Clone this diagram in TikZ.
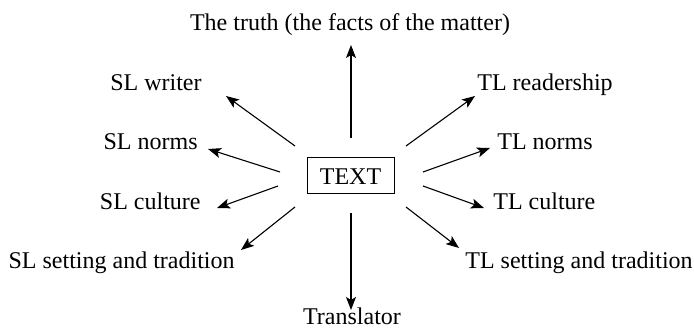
\documentclass[tikz,border=0pt]{standalone}
\usepackage{fontspec}
\setmainfont{Liberation Serif}
\usetikzlibrary{arrows.meta}

\begin{document}
\begin{tikzpicture}[x=0.5pt, y=-0.5pt, every node/.style={inner sep=0pt, font=\fontsize{12}{14}\selectfont}, arr/.style={-{Stealth[length=6.5pt, width=5pt, inset=1.5pt]}, line width=0.55pt}, box/.style={draw, line width=0.5pt, minimum width=43.5pt, minimum height=18pt}]
		\useasboundingbox (0,0) rectangle (694,330);
		\node[box](text) at (350.5,176){};
		\node[anchor=base](textlbl) at (350.5,185){TEXT};
		\node[anchor=base](truth) at (350,31){The truth (the facts of the matter)};
		\node[anchor=base](transl) at (352,325){Translator};
		\node[anchor=base east](slw) at (202,91){SL writer};
		\node[anchor=base east](sln) at (198,150){SL norms};
		\node[anchor=base east](slc) at (201,210){SL culture};
		\node[anchor=base east](sls) at (235,269){SL setting and tradition};
		\node[anchor=base west](tlr) at (477,91){TL readership};
		\node[anchor=base west](tln) at (497,150){TL norms};
		\node[anchor=base west](tlc) at (493,210){TL culture};
		\node[anchor=base west](tls) at (465,269){TL setting and tradition};
		% arrow ends
		\foreach \n/\a/\b/\c/\d in {truth/351/138/351/45, transl/351/213/351/310,
				slw/295/146/226/96, sln/280/172/208/149, slc/278/186/217/208, sls/295/207/241/250,
				tlr/406/146/475/96, tln/423/172/490/148, tlc/423/186/484/208, tls/406/207/459/248}{
			\coordinate(from-\n) at (\a,\b);
			\coordinate(to-\n) at (\c,\d);
			\draw[arr] (from-\n) -- (to-\n);
		}
	\end{tikzpicture}
\end{document}
